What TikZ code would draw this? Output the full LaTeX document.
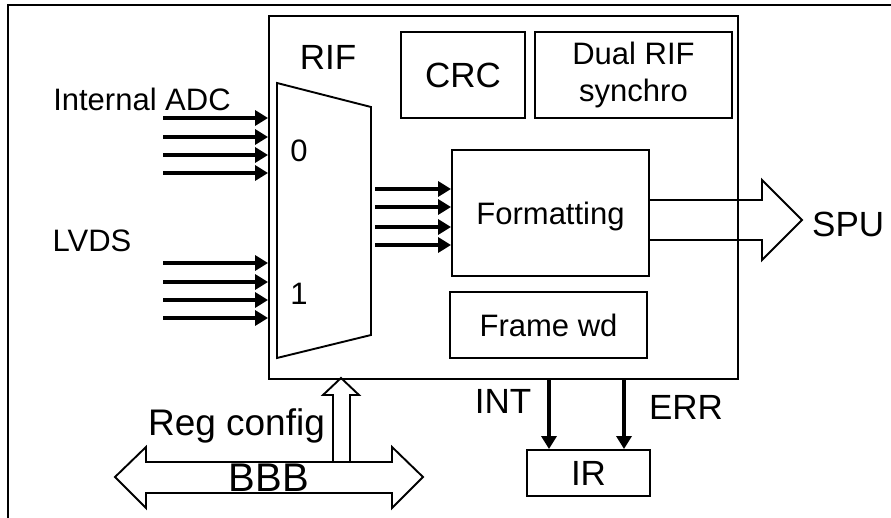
\documentclass[tikz,border=0pt]{standalone}
\usepackage{fontspec}
\setmainfont{Liberation Sans}
\usetikzlibrary{arrows.meta,positioning,calc}

\tikzset{
  blk/.style={draw, line width=1.9pt, inner sep=0pt},
  lbl/.style={font=\fontsize{31}{37}\selectfont, text depth=0pt, inner sep=0pt},
  biglbl/.style={font=\fontsize{35}{40}\selectfont, text depth=0pt, inner sep=0pt},
  sig/.style={line width=3.8pt, -{Triangle[length=13pt,width=15pt]}},
  hollow/.style={line width=1.9pt, line join=miter},
}

\begin{document}
\begin{tikzpicture}[x=1pt,y=-1pt]
    \useasboundingbox (0,0) rectangle (891,518);
    % Frame
    \draw[line width=2.2pt] (8,518) -- (8,5) -- (891,5);

    % RIF block
    \node[blk, minimum width=469pt, minimum height=363pt] (rif) at (503.5,197.5) {};
    \node[biglbl] (riftxt) at (328,57) {RIF};

    % Mux
    \draw[line width=1.9pt] (277,83) -- (371,107) -- (371,335) -- (277,358) -- cycle;
    \node[lbl] (sel0) at (299,151) {0};
    \node[lbl] (sel1) at (299,294) {1};

    % Inner blocks
    \node[blk, biglbl, draw, minimum width=124pt, minimum height=86pt] (crc) at (463,75) {CRC};
    \node[blk, font=\fontsize{31}{37}\selectfont, align=center,
          minimum width=197pt, minimum height=86pt] (sync) at (633.5,75) {Dual RIF\\synchro};
    \node[blk, lbl, draw, minimum width=197pt, minimum height=126pt] (fmt) at (550.5,213) {Formatting};
    \node[blk, lbl, draw, minimum width=197pt, minimum height=66pt] (fwd) at (548.5,325) {Frame wd};

    % Inputs
    \node[lbl] (adc) at (142,99) {Internal ADC};
    \node[lbl] (lvds) at (92,241) {LVDS};
    \foreach \y [count=\i] in {118,137,155,173,263,282,300,318} {
        \coordinate (in\i) at (163,\y);
        \draw[sig] (in\i) -- (in\i -| rif.west);
    }

    % Mux to formatting
    \foreach \y [count=\i] in {189,207,227,245} {
        \coordinate (mx\i) at (375,\y);
        \draw[sig] (mx\i) -- (mx\i -| fmt.west);
    }

    % SPU output
    \draw[hollow] (fmt.east |- 0,200) -- (762,200) -- (762,180) -- (802,220)
        -- (762,260) -- (762,240) -- (fmt.east |- 0,240);
    \node[biglbl, anchor=west] (spu) at (812,224) {SPU};

    % IR
    \node[blk, biglbl, draw, minimum width=123pt, minimum height=46pt] (ir) at (588.5,473) {IR};
    \coordinate (intx) at (549,0);
    \coordinate (errx) at (624,0);
    \draw[sig] (intx |- rif.south) -- (intx |- ir.north);
    \draw[sig] (errx |- rif.south) -- (errx |- ir.north);
    \node[biglbl] (int) at (503,401) {INT};
    \node[biglbl] (err) at (686,407) {ERR};

    % BBB bus
    \draw[hollow] (115,477) -- (146,447) -- (146,462) -- (392,462) -- (392,447) -- (423,477)
        -- (392,508) -- (392,493) -- (146,493) -- (146,508) -- cycle;
    \node[font=\fontsize{40}{44}\selectfont, text depth=0pt, inner sep=0pt] (bbb) at (269,478) {BBB};
    \draw[hollow] (333,462) -- (333,395) -- (323,395) -- (341,378) -- (359,395) -- (350,395) -- (350,462);
    \node[font=\fontsize{37}{42}\selectfont, text depth=0pt, inner sep=0pt] (reg) at (236.5,422) {Reg config};
\end{tikzpicture}
\end{document}
